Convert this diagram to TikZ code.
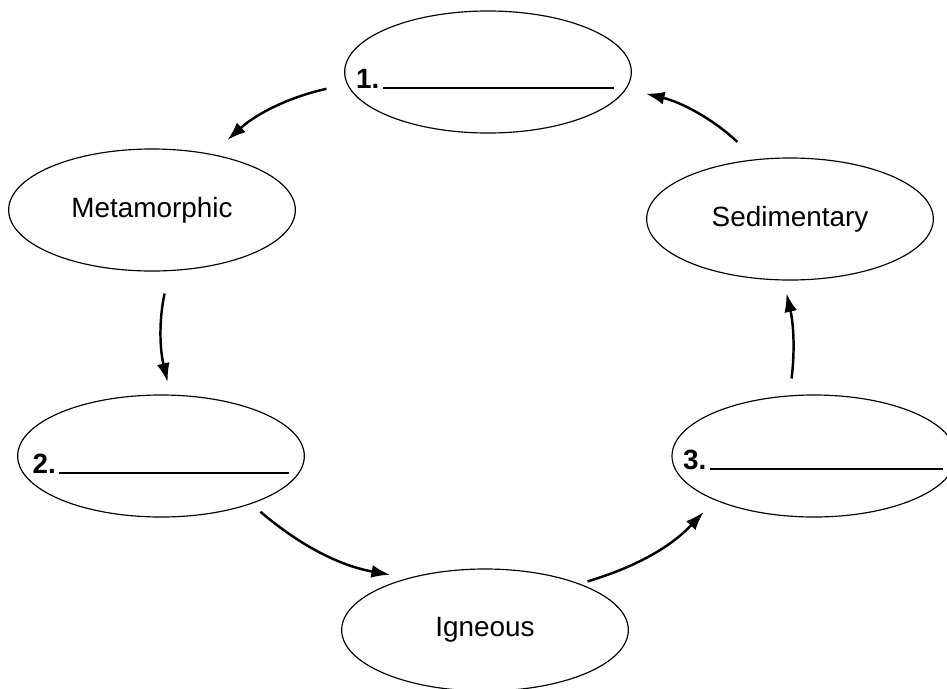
\documentclass[tikz,border=0pt]{standalone}
\usepackage{fontspec}
\setmainfont{Liberation Sans}
\usetikzlibrary{arrows.meta,shapes.geometric}

\begin{document}
\begin{tikzpicture}[x=0.03cm,y=-0.03cm,
  rock/.style={draw,ellipse,line width=1pt,inner sep=0pt,
    minimum width=8.6cm,minimum height=3.66cm,
    font=\fontsize{23.8}{28}\selectfont},
  blank/.style={anchor=base,inner sep=0pt,
    font=\fontsize{23.8}{28}\selectfont\bfseries},
  cyc/.style={-{Latex[length=16pt,width=11pt]},line width=2.1pt}]
 \useasboundingbox (0,0) rectangle (947,688);
 \node[rock] (one) at (488,72) {};
 \node[rock] (meta) at (152,210) {Metamorphic};
 \node[rock] (sed) at (790,219) {Sedimentary};
 \node[rock] (two) at (161,456) {};
 \node[rock,minimum width=8.52cm] (three) at (814,456) {};
 \node[rock] (ign) at (485,630) {Igneous};
 \node[blank] (onelbl) at (485,88) {1.\hspace{3pt}\rule[-1pt]{6.93cm}{1.8pt}};
 \node[blank] (twolbl) at (161,473) {2.\hspace{3pt}\rule[-1pt]{6.9cm}{1.8pt}};
 \node[blank] (threelbl) at (813,469) {3.\hspace{3pt}\rule[-1pt]{6.99cm}{1.8pt}};
 \draw[cyc,shorten <=0.63cm,shorten >=0.62cm] (one.185.7) to[bend right=15] (meta.43.8);
 \draw[cyc,shorten <=0.69cm,shorten >=0.39cm] (meta.-74.5) to[bend right=13] (two.81.5);
 \draw[cyc,shorten <=0.36cm,shorten >=0.54cm] (two.-28.6) to[bend right=15] (ign.146.7);
 \draw[cyc,shorten <=0.24cm,shorten >=0.48cm] (ign.26.3) to[bend right=15] (three.204.5);
 \draw[cyc,shorten <=0.51cm,shorten >=0.39cm] (three.112.2) to[bend right=10] (sed.264.6);
 \draw[cyc,shorten <=0.75cm,shorten >=0.6cm] (sed.120.1) to[bend right=15] (one.-7.7);
\end{tikzpicture}
\end{document}
